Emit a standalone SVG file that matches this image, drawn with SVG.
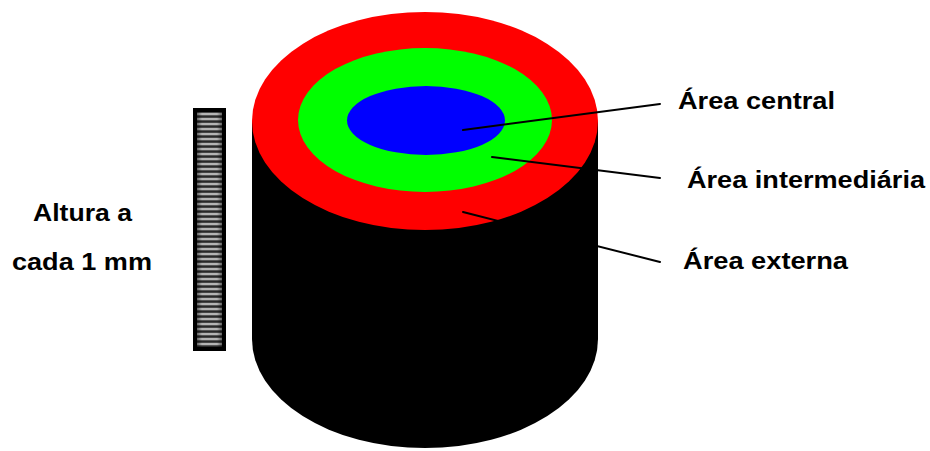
<svg xmlns="http://www.w3.org/2000/svg" width="930" height="451" viewBox="0 0 930 451">
  <style>
    .label { font-family: "Liberation Sans", Arial, sans-serif; font-weight: bold; font-size: 24px; fill: #000; }
    .leader { stroke: #000; stroke-width: 2; fill: none; stroke-linecap: round; }
  </style>
  <defs>
    <pattern id="stripes" x="0" y="112" width="10" height="5" patternUnits="userSpaceOnUse">
      <rect width="10" height="5" fill="#2a2a2a"/>
      <rect y="0.8" width="10" height="2.5" fill="#b4b4b4"/>
    </pattern>
    <linearGradient id="stripeFade" x1="0" y1="0" x2="1" y2="0">
      <stop offset="0" stop-color="#000" stop-opacity="0.45"/>
      <stop offset="0.2" stop-color="#000" stop-opacity="0"/>
      <stop offset="0.8" stop-color="#000" stop-opacity="0"/>
      <stop offset="1" stop-color="#000" stop-opacity="0.45"/>
    </linearGradient>
  </defs>

  <rect width="930" height="451" fill="#fff"/>

  <!-- height scale bar -->
  <g id="scale-bar">
    <rect x="193" y="108" width="33" height="243" fill="#000"/>
    <rect x="197" y="112" width="25" height="235" fill="url(#stripes)"/>
    <rect x="197" y="112" width="25" height="235" fill="url(#stripeFade)"/>
  </g>

  <!-- cylinder body -->
  <g id="cylinder">
    <rect x="252" y="121" width="346" height="218" fill="#000"/>
    <ellipse cx="425" cy="339" rx="173" ry="109" fill="#000"/>
  </g>

  <!-- top face areas -->
  <g id="area-externa">
    <ellipse cx="425" cy="121" rx="173" ry="109" fill="#ff0000"/>
  </g>
  <g id="area-intermediaria">
    <ellipse cx="425" cy="120" rx="127" ry="72" fill="#00ff00"/>
  </g>
  <g id="area-central">
    <ellipse cx="426" cy="120.5" rx="79" ry="34.5" fill="#0000ff"/>
  </g>

  <!-- leader lines -->
  <g id="connectors">
    <line class="leader" x1="463" y1="130" x2="660" y2="104"/>
    <line class="leader" x1="492" y1="157" x2="660" y2="178"/>
    <line class="leader" x1="463" y1="212" x2="660" y2="262"/>
  </g>

  <!-- labels -->
  <g id="label-central">
    <text class="label" x="678" y="109" textLength="157" lengthAdjust="spacingAndGlyphs">Área central</text>
  </g>
  <g id="label-intermediaria">
    <text class="label" x="687" y="188" textLength="238" lengthAdjust="spacingAndGlyphs">Área intermediária</text>
  </g>
  <g id="label-externa">
    <text class="label" x="683" y="269" textLength="165" lengthAdjust="spacingAndGlyphs">Área externa</text>
  </g>
  <g id="label-altura">
    <text class="label" x="33" y="221" textLength="99" lengthAdjust="spacingAndGlyphs">Altura a</text>
    <text class="label" x="12" y="270" textLength="140" lengthAdjust="spacingAndGlyphs">cada 1 mm</text>
  </g>
</svg>
